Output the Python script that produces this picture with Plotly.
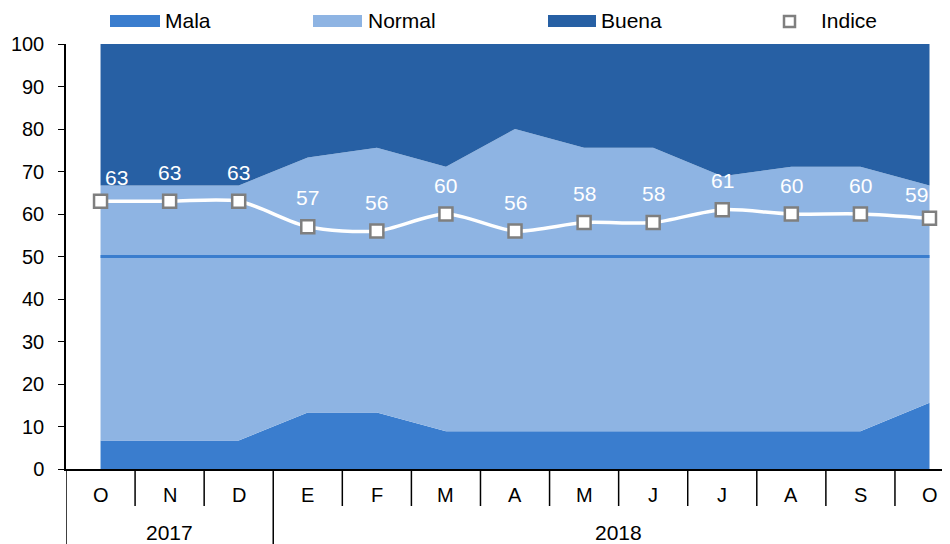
import plotly.graph_objects as go

# ---- data ----
months = ["O", "N", "D", "E", "F", "M", "A", "M", "J", "J", "A", "S", "O"]
years = ["2017", "2018"]
year_start = [0, 3]          # index of first month of each year
mala = [6.7, 6.7, 6.7, 13.3, 13.3, 8.9, 8.9, 8.9, 8.9, 8.9, 8.9, 8.9, 15.6]
normal = [60.0, 60.0, 60.0, 60.0, 62.3, 62.2, 71.1, 66.7, 66.7, 60.0, 62.2, 62.2, 51.1]
buena = [33.3, 33.3, 33.3, 26.7, 24.4, 28.9, 20.0, 24.4, 24.4, 31.1, 28.9, 28.9, 33.3]
indice = [63, 63, 63, 57, 56, 60, 56, 58, 58, 61, 60, 60, 59]
umbral = 50

C_MALA = "#3A7DCE"
C_NORMAL = "#8EB4E3"
C_BUENA = "#2760A4"
FONT = "Liberation Sans, Arial, sans-serif"

OFF = 8  # browser body margin
W, H = 950 - OFF, 544 - OFF
ML, MR, MT, MB = 66 - OFF, 0, 44 - OFF, 544 - 469
PW, PH = W - ML - MR, H - MT - MB
CAT_PX = 69.08


def pxx(p):  # reference pixel -> paper x
    return (p - OFF - ML) / PW


def pxy(p):  # reference pixel -> paper y
    return (H - MB - (p - OFF)) / PH


x = list(range(len(months)))
n = len(x)

fig = go.Figure()
for name, vals, col in [("Mala", mala, C_MALA), ("Normal", normal, C_NORMAL), ("Buena", buena, C_BUENA)]:
    fig.add_trace(go.Scatter(x=x, y=vals, name=name, stackgroup="one", mode="lines",
                             line=dict(width=0, color=col), fillcolor=col, hoverinfo="skip"))

fig.add_trace(go.Scatter(x=x, y=[umbral] * n, mode="lines",
                         line=dict(color=C_MALA, width=3), hoverinfo="skip"))

fig.add_trace(go.Scatter(x=x, y=indice, name="Indice", mode="lines+markers",
                         line=dict(color="white", width=3.5, shape="spline", smoothing=0.8),
                         marker=dict(symbol="square", size=13, color="white",
                                     line=dict(color="#7F7F7F", width=2.5))))

annotations = []
for i, v in enumerate(indice):
    xs = 16 if i == 0 else (-13 if i == n - 1 else 0)
    ys = 24 if i in (0, n - 1) else 29
    annotations.append(dict(x=i, y=v, text=str(v), showarrow=False, xshift=xs, yshift=ys,
                            font=dict(color="white", size=21, family=FONT)))

for i, m in enumerate(months):
    annotations.append(dict(x=i, y=pxy(495.5), xref="x", yref="paper", text=m, showarrow=False,
                            yanchor="middle", font=dict(color="black", size=20, family=FONT)))

bounds = year_start + [n]
for k, yr in enumerate(years):
    cx = (bounds[k] + bounds[k + 1] - 1) / 2
    annotations.append(dict(x=cx, y=pxy(532), xref="x", yref="paper", text=yr, showarrow=False,
                            yanchor="middle", font=dict(color="black", size=21, family=FONT)))

shapes = []
for i in range(n):
    bottom = 544 if i in year_start else 506
    shapes.append(dict(type="line", xref="x", yref="paper", x0=i - 0.5, x1=i - 0.5,
                       y0=0, y1=pxy(bottom), line=dict(color="black", width=1.5)))

# legend (drawn manually to match swatch geometry)
leg = [("Mala", C_MALA, 110, 160, 163), ("Normal", C_NORMAL, 313, 362, 366),
       ("Buena", C_BUENA, 548, 596, 599)]
for name, col, a, b, t in leg:
    shapes.append(dict(type="rect", xref="paper", yref="paper", x0=pxx(a), x1=pxx(b),
                       y0=pxy(27), y1=pxy(15), fillcolor=col, line=dict(width=0)))
    annotations.append(dict(x=pxx(t), y=pxy(21), xref="paper", yref="paper", text=name,
                            showarrow=False, xanchor="left", yanchor="middle",
                            font=dict(color="black", size=21, family=FONT)))
shapes.append(dict(type="rect", xref="paper", yref="paper", x0=pxx(784), x1=pxx(795),
                   y0=pxy(27), y1=pxy(16), fillcolor="white",
                   line=dict(color="#7F7F7F", width=2.5)))
annotations.append(dict(x=pxx(819), y=pxy(21), xref="paper", yref="paper", text="Indice",
                        showarrow=False, xanchor="left", yanchor="middle",
                        font=dict(color="black", size=21, family=FONT)))

fig.update_layout(
    width=W, height=H,
    margin=dict(l=ML, r=MR, t=MT, b=MB, pad=0),
    paper_bgcolor="white", plot_bgcolor="white",
    showlegend=False,
    font=dict(family=FONT, color="black"),
    xaxis=dict(range=[-0.5, -0.5 + PW / CAT_PX],
               showticklabels=False, showgrid=False, zeroline=False,
               showline=True, linecolor="black", linewidth=2, ticks=""),
    yaxis=dict(range=[0, 100], tickvals=list(range(0, 101, 10)), ticks="outside", ticklen=6,
               tickcolor="black", tickwidth=1, showline=True, linecolor="black", linewidth=1.5,
               showgrid=False, zeroline=False, tickfont=dict(size=20, color="black", family=FONT),
               ticklabelstandoff=10),
    annotations=annotations,
    shapes=shapes,
)

fig.write_html("out.html")
